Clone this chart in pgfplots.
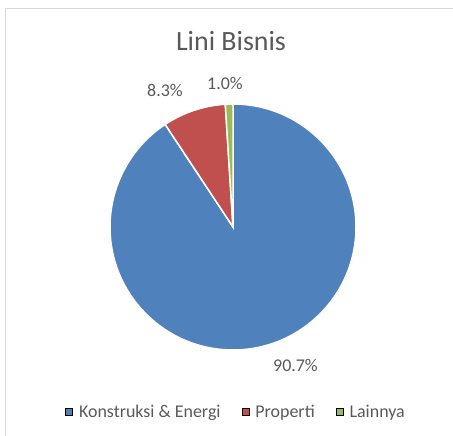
\documentclass[border=0pt]{standalone}
\usepackage{fontspec}
\setmainfont{Carlito}
\usepackage{pgfplots}
\usepackage{pgfplotstable}
\pgfplotsset{compat=1.18}
\definecolor{cblue}{HTML}{4F81BD}
\definecolor{cred}{HTML}{C0504D}
\definecolor{cgreen}{HTML}{9BBB59}
\definecolor{tgrey}{HTML}{595959}
\definecolor{bgrey}{HTML}{D9D9D9}
\pgfplotstableread{
name value
Konstruksi 90.7
Properti 8.3
Lainnya 1.0
}\piedata
\begin{document}
\begin{tikzpicture}
\pgfplotstablegetelem{0}{value}\of\piedata \let\vA\pgfplotsretval
\pgfplotstablegetelem{1}{value}\of\piedata \let\vB\pgfplotsretval
\pgfplotstablegetelem{2}{value}\of\piedata \let\vC\pgfplotsretval
\pgfmathsetmacro\aA{90}
\pgfmathsetmacro\aB{\aA-3.6*\vA}
\pgfmathsetmacro\aC{\aB-3.6*\vB}
\pgfmathsetmacro\aD{\aC-3.6*\vC}
\begin{axis}[
  at={(0,0)}, anchor=south west,
  width=453bp, height=436bp, scale only axis,
  xmin=0, xmax=453, ymin=0, ymax=436,
  hide axis, clip=false,
  legend image code/.code={\fill[#1] (0bp,-3.5bp) rectangle (7bp,3.5bp);},
  legend columns=3,
  legend style={at={(axis cs:236,24)}, anchor=center, draw=none, fill=none,
    font=\fontsize{18}{20}\selectfont, text=tgrey,
    /tikz/every odd column/.append style={column sep=4.5bp},
    /tikz/every even column/.append style={column sep=19bp}},
]
\addlegendimage{fill=cblue}
\addlegendentry{Konstruksi \& Energi}
\addlegendimage{fill=cred}
\addlegendentry{Properti}
\addlegendimage{fill=cgreen}
\addlegendentry{Lainnya}
% border
\draw[bgrey, line width=1.5bp] (axis cs:5.5,0) -- (axis cs:5.5,427.5) -- (axis cs:453,427.5);
% slices
\fill[cblue, draw=white, line width=1.5bp] (axis cs:233,209) -- ++(\aA:123bp) arc[start angle=\aA, end angle=\aB, radius=123bp] -- cycle;
\fill[cred, draw=white, line width=1.5bp] (axis cs:233,209) -- ++(\aB:123bp) arc[start angle=\aB, end angle=\aC, radius=123bp] -- cycle;
\fill[cgreen, draw=white, line width=1.5bp] (axis cs:233,209) -- ++(\aC:123bp) arc[start angle=\aC, end angle=\aD, radius=123bp] -- cycle;
% title
\node[anchor=base, text=tgrey, font=\fontsize{28}{30}\selectfont] at (axis cs:231,385) {Lini Bisnis};
% labels
\node[anchor=base, text=tgrey, font=\fontsize{18}{20}\selectfont] at (axis cs:165,339.5) {8.3\%};
\node[anchor=base, text=tgrey, font=\fontsize{18}{20}\selectfont] at (axis cs:225,346) {1.0\%};
\node[anchor=base, text=tgrey, font=\fontsize{18}{20}\selectfont] at (axis cs:295.5,64) {90.7\%};
\end{axis}
\pgfresetboundingbox
\path[use as bounding box] (0,0) rectangle (453bp,436bp);
\end{tikzpicture}
\end{document}
